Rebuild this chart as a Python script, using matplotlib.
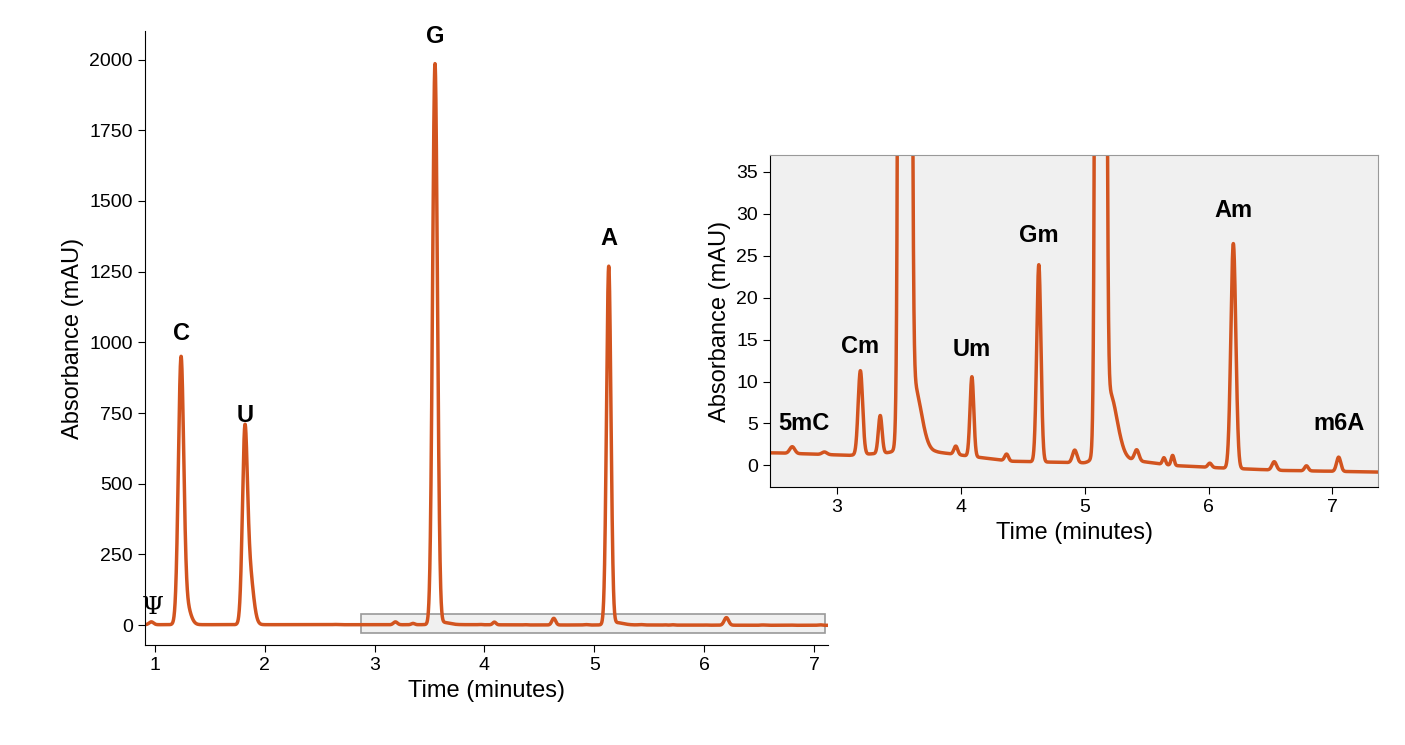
import numpy as np
import matplotlib
matplotlib.use("Agg")
import matplotlib.pyplot as plt
from matplotlib.patches import Rectangle

plt.rcParams["font.family"] = ["Liberation Sans", "DejaVu Sans"]

# Peak table: retention time (min), height (mAU), width (sigma, min)
peak_time   = [0.97, 1.24, 1.28, 1.82, 1.86, 2.64, 2.90, 3.19, 3.35, 3.55, 3.62, 3.96, 4.09, 4.37,
               4.63, 4.92, 5.13, 5.20, 5.42, 5.64, 5.71, 6.01, 6.20, 6.53, 6.79, 7.05]
peak_height = [10, 900, 80, 600, 200, 0.8, 0.3, 10.0, 4.5, 1980, 8.0, 1.0, 9.5, 0.8,
               23.5, 1.5, 1265, 8.0, 1.3, 0.8, 1.2, 0.5, 26.8, 1.0, 0.6, 1.7]
peak_width  = [0.02, 0.024, 0.04, 0.022, 0.035, 0.02, 0.02, 0.018, 0.015, 0.022, 0.06, 0.015, 0.015, 0.015,
               0.017, 0.018, 0.02, 0.06, 0.018, 0.012, 0.012, 0.015, 0.02, 0.018, 0.015, 0.017]

# Slowly drifting baseline (mAU)
base_time = [0.9, 2.5, 3.1, 3.5, 3.8, 4.4, 5.0, 5.3, 5.7, 6.1, 6.6, 7.4]
base_val  = [1.5, 1.5, 1.2, 1.6, 1.6, 0.5, 0.3, 0.8, 0.0, -0.3, -0.6, -0.8]

main_labels = [("Ψ", 0.98, 20), ("C", 1.24, 990), ("U", 1.82, 700), ("G", 3.55, 2040), ("A", 5.13, 1325)]
inset_labels = [("5mC", 2.73, 3.6), ("Cm", 3.19, 12.8), ("Um", 4.09, 12.4), ("Gm", 4.63, 26.0),
                ("Am", 6.20, 29.0), ("m6A", 7.05, 3.6)]

color = "#d2541f"

t = np.linspace(0.9, 7.4, 8000)
signal = np.interp(t, base_time, base_val)
for c, h, w in zip(peak_time, peak_height, peak_width):
    signal += h * np.exp(-0.5 * ((t - c) / w) ** 2)

fig = plt.figure(figsize=(14.05, 7.45), dpi=100)

ax = fig.add_axes([0.103, 0.134, 0.486, 0.824])
ax.add_patch(Rectangle((2.88, -28), 4.22, 68, facecolor="#f0f0f0", edgecolor="#999999", lw=1.2, zorder=1))
ax.plot(t, signal, color=color, lw=2.5, zorder=2)
ax.set_xlim(0.91, 7.12)
ax.set_ylim(-71, 2100)
ax.set_xticks(range(1, 8))
ax.set_yticks(np.arange(0, 2001, 250))
ax.spines[["top", "right"]].set_visible(False)
ax.tick_params(labelsize=14, length=5)
ax.set_xlabel("Time (minutes)", fontsize=17)
ax.set_ylabel("Absorbance (mAU)", fontsize=17)
for txt, x, y in main_labels:
    if txt == "Ψ":
        ax.text(x, y, txt, fontsize=18, family="DejaVu Serif", ha="center", va="bottom")
    else:
        ax.text(x, y, txt, fontsize=17, fontweight="bold", ha="center", va="bottom", clip_on=False)

ins = fig.add_axes([0.548, 0.346, 0.433, 0.446])
ins.set_facecolor("#f0f0f0")
ins.plot(t, signal, color=color, lw=2.5)
ins.set_xlim(2.46, 7.37)
ins.set_ylim(-2.6, 37)
ins.set_xticks(range(3, 8))
ins.set_yticks(range(0, 36, 5))
for s in ins.spines.values():
    s.set_color("#999999")
ins.spines["left"].set_color("black")
ins.spines["bottom"].set_color("black")
ins.tick_params(labelsize=14, length=5)
ins.set_xlabel("Time (minutes)", fontsize=17)
ins.set_ylabel("Absorbance (mAU)", fontsize=17)
for txt, x, y in inset_labels:
    ins.text(x, y, txt, fontsize=17, fontweight="bold", ha="center", va="bottom")

fig.savefig("out.png", dpi=100)
